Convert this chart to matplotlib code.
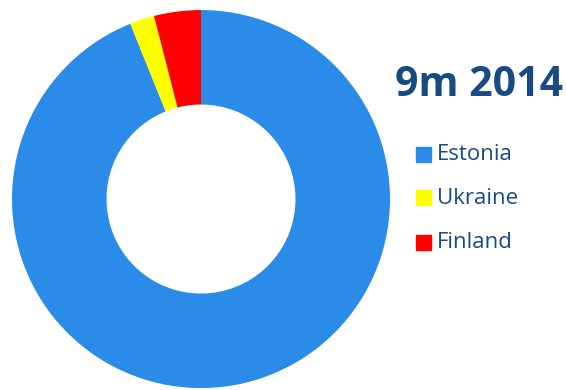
import matplotlib.pyplot as plt

# shares by country
countries = ["Estonia", "Ukraine", "Finland"]
shares = [93.9, 2.1, 4.0]
colors = ["#2A8BE8", "#FFFF00", "#FF0000"]
title = "9m 2014"
text_color = "#184B84"

plt.rcParams['font.family'] = ['Open Sans', 'DejaVu Sans']

fig = plt.figure(figsize=(5.67, 3.9), dpi=100)

# donut
ax = fig.add_axes([11 / 567, 0.005, 380 / 567, 378 / 390])
ax.pie(shares, colors=colors, startangle=90, counterclock=False,
       radius=1.0, wedgeprops=dict(width=0.5, linewidth=0))
ax.set_xlim(-1, 1)
ax.set_ylim(-1, 1)
ax.set_aspect('equal')
ax.axis('off')

# title
fig.text(479 / 567, 1 - 86 / 390, title, ha='center', va='center',
         fontsize=29.5, fontweight='bold', color=text_color)

# legend
legend_y = [155, 198, 242]
for name, c, y in zip(countries, colors, legend_y):
    yf = 1 - y / 390
    fig.patches.append(plt.Rectangle((416 / 567, yf - 7.5 / 390), 15 / 567, 15 / 390,
                                     transform=fig.transFigure, color=c))
    fig.text(437 / 567, yf, name, ha='left', va='center',
             fontsize=16, color=text_color)

fig.savefig("out.png", dpi=100)
